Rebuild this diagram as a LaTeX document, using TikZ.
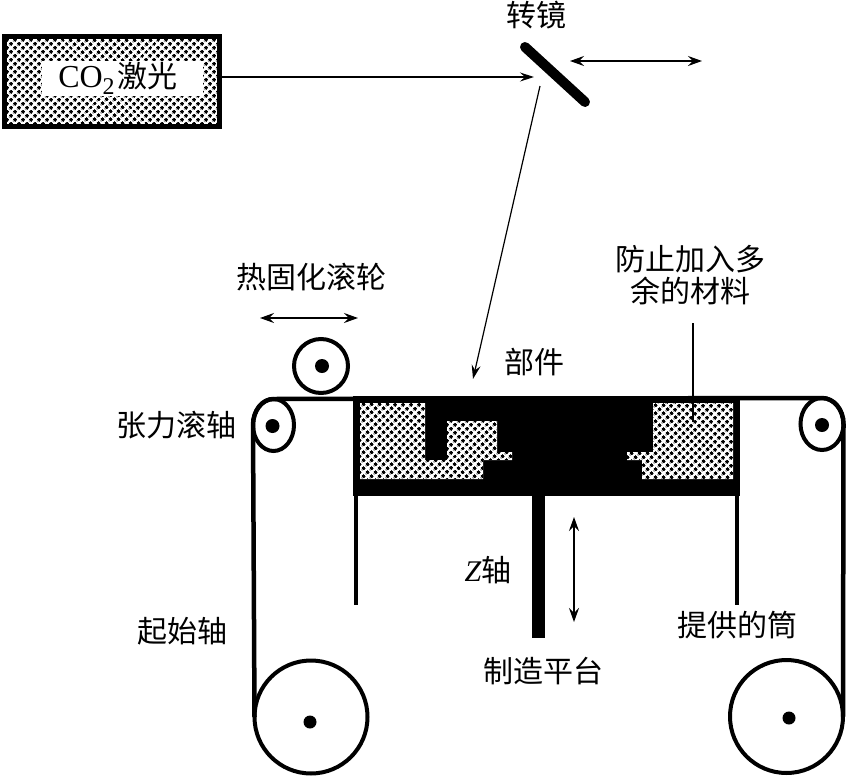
\documentclass[tikz,border=0pt]{standalone}
\usepackage{fontspec}
\newfontfamily\cjk{Noto Sans CJK SC}
\newfontfamily\latinf{Liberation Serif}
\usetikzlibrary{arrows.meta,patterns.meta,shapes.geometric}
\tikzset{
    tag/.style={font=\fontsize{30}{32}\selectfont\cjk,inner sep=0pt,align=center},
    toner/.style={preaction={fill=white},pattern={Dots[distance=5.4pt,radius=1.95pt,angle=45]},pattern color=black},
    roller/.style={circle,draw,line width=4pt,fill=white,outer sep=0pt,inner sep=0pt},
    idler/.style={ellipse,draw,line width=4pt,fill=white,outer sep=0pt,inner sep=0pt},
    hub/.style={circle,fill=black,inner sep=0pt,minimum size=#1},
    web/.style={line width=4.5pt},
    ray/.style={line width=1.2pt,-{Stealth[length=14pt,width=9pt,inset=5pt]}},
    shift arrow/.style={line width=1.2pt,{Stealth[length=14pt,width=10pt,inset=5pt]}-{Stealth[length=14pt,width=10pt,inset=5pt]}}
}
\begin{document}
\begin{tikzpicture}[x=1pt,y=-1pt]
    \useasboundingbox (0,0) rectangle (847,777);

    % laser and mirror
    \node[draw,line width=5pt,toner,minimum width=215pt,minimum height=90pt,outer sep=2.5pt,inner sep=0pt] (laser) at (111.5,81) {};
    \node[fill=white,minimum width=161pt,minimum height=35pt,inner sep=0pt] (laserlabel) at (122,78)
        {\hspace{-8pt}\fontsize{32}{33}\selectfont\latinf CO\raisebox{-7pt}{\fontsize{24}{24}\selectfont 2}\hspace{3pt}{\fontsize{30}{32}\selectfont\cjk 激光}};
    \coordinate (mirrorA) at (525,47);
    \coordinate (mirrorB) at (585,102);
    \draw[line width=10pt,line cap=round] (mirrorA) -- (mirrorB);
    \node[tag] (mirrorlabel) at (536,15) {转镜};
    \coordinate (hitpoint) at (534,77);
    \coordinate (scanL) at (570,61);
    \coordinate (scanR) at (702,61);
    \coordinate (rayfrom) at (540,86);
    \coordinate (rayto) at (473,379);
    \draw[ray] (laser.east |- hitpoint) -- (hitpoint);
    \draw[shift arrow] (scanL) -- (scanR);
    \draw[ray] (rayfrom) -- (rayto);

    % rollers
    \node[roller,minimum size=54pt] (hotroll) at (321,366) {};
    \node[idler,minimum width=41pt,minimum height=52pt] (tensL) at (273.5,425) {};
    \node[idler,minimum width=43pt,minimum height=52pt] (tensR) at (822,424) {};
    \node[roller,minimum size=113pt] (startroll) at (311,717) {};
    \node[roller,minimum size=113pt] (supplyroll) at (786.5,716.5) {};
    \node[hub=14pt] (hubhot) at (322,366) {};
    \node[hub=14pt] (hubL) at (272.5,426) {};
    \node[hub=14pt] (hubR) at (822,425) {};
    \node[hub=13pt] (hubstart) at (310,722) {};
    \node[hub=13pt] (hubsupply) at (789,718) {};

    % film path
    \draw[web] (startroll.west) -- (tensL.west) arc[start angle=180,end angle=90,x radius=20.5pt,y radius=26pt] -- (tensR.north)
        arc[start angle=90,end angle=0,x radius=21.5pt,y radius=26pt] -- (supplyroll.east);

    % part block
    \node[fill=black,minimum width=387pt,minimum height=100pt,inner sep=0pt,outer sep=0pt] (block) at (546.5,446) {};
    \path[toner] (360,403) -- (425,403) -- (425,460) -- (447,460) -- (447,421) -- (497,421) -- (497,452) -- (512,452)
        -- (512,460) -- (483,460) -- (483,479) -- (360,479) -- cycle;
    \path[toner] (653,403) -- (733,403) -- (733,479) -- (642,479) -- (642,460) -- (627,460) -- (627,452) -- (653,452) -- cycle;
    \coordinate (endL) at (356,605);
    \coordinate (endR) at (737,605);
    \draw[web] (block.south west -| endL) -- (endL);
    \draw[web] (block.south east -| endR) -- (endR);

    % platform
    \node[fill=black,minimum width=13pt,minimum height=143pt,inner sep=0pt,outer sep=0pt] (shaft) at (538.5,566.5) {};
    \coordinate (liftT) at (574,517);
    \coordinate (liftB) at (574,622);
    \draw[shift arrow] (liftT) -- (liftB);

    % top roller motion and leader
    \coordinate (hotL) at (260,318);
    \coordinate (hotR) at (358,318);
    \draw[shift arrow] (hotL) -- (hotR);
    \node[tag] (hotlabel) at (311,277) {热固化滚轮};
    \node[tag] (stoplabel) at (690,275) {防止加入多\\余的材料};
    \coordinate (stoptop) at (693,323);
    \coordinate (stoppoint) at (693,422);
    \draw[line width=1.2pt] (stoptop) -- (stoppoint);

    % labels
    \node[tag] (partlabel) at (534,362) {部件};
    \node[tag] (tenslabel) at (176,425) {张力滚轴};
    \node[tag] (startlabel) at (182,631) {起始轴};
    \node[tag] (zlabel) at (488,570) {{\latinf\itshape Z}轴};
    \node[tag] (supplylabel) at (737,625) {提供的筒};
    \node[tag] (platlabel) at (543,671) {制造平台};
\end{tikzpicture}
\end{document}
